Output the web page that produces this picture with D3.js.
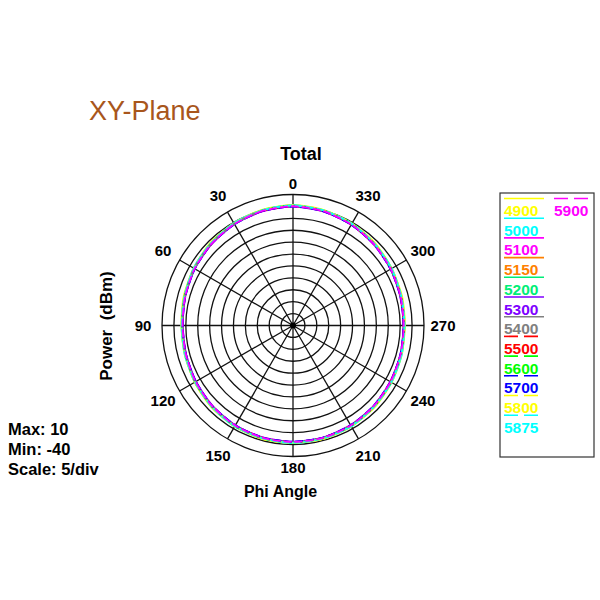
<!DOCTYPE html>
<html><head><meta charset="utf-8">
<script src="https://cdn.jsdelivr.net/npm/d3@7/dist/d3.min.js"></script>
<style>body{margin:0;background:#fff}svg{display:block}text{font-family:"Liberation Sans",Arial,sans-serif}</style>
</head><body>
<svg id="c" width="600" height="600"></svg>
<script>
// ---- data ----
const angles = [0,15,30,45,60,75,90,105,120,135,150,165,180,195,210,225,240,255,270,285,300,315,330,345];
const angleTicks = [0,30,60,90,120,150,180,210,240,270,300,330];
const ringValues = [-40,-35,-30,-25,-20,-15,-10,-5,0,5,10];
const freqs = ["4900","5000","5100","5150","5200","5300","5400","5500","5600","5700","5800","5875","5900"];
const colors = ["#ffff00","#00ffff","#ff00ff","#ff8000","#00ee77","#8000ff","#808080","#ff0000","#00ff00","#0000ff","#ffff00","#00ffff","#ff00ff"];
const dashed = [false,false,false,false,false,false,false,true,true,true,true,true,true];
const s4900 = [5.6,5.3,4.6,4.1,3.1,2.5,1.9,2.0,2.7,3.5,3.9,4.4,4.3,4.3,3.9,3.5,2.8,2.2,2.0,2.4,2.8,3.8,4.4,5.2];
const s5000 = [5.5,5.1,4.7,3.8,3.2,2.2,1.8,2.1,2.5,3.3,4.0,4.1,4.4,4.1,4.0,3.2,2.8,2.3,1.8,2.1,2.9,3.5,4.5,5.0];
const s5100 = [5.0,4.6,4.2,3.3,2.7,1.8,1.2,1.5,2.2,2.7,3.5,3.6,3.9,3.7,3.3,2.9,2.1,1.8,1.4,1.6,2.4,3.0,4.0,4.5];
const s5150 = [5.2,4.8,4.4,3.5,2.9,1.9,1.5,1.8,2.2,3.1,3.5,4.0,3.9,4.0,3.5,3.1,2.3,2.0,1.5,2.0,2.4,3.4,4.0,4.9];
const s5200 = [5.3,5.0,4.2,3.7,2.8,2.2,1.6,1.6,2.5,3.0,3.8,3.9,4.1,3.8,3.7,3.0,2.5,1.9,1.7,1.8,2.6,3.3,4.2,4.8];
const s5300 = [4.9,4.7,4.1,3.4,2.6,1.9,1.3,1.5,2.0,2.9,3.4,3.8,3.8,3.7,3.4,2.8,2.3,1.7,1.4,1.8,2.3,3.2,3.9,4.6];
const s5400 = [5.1,4.9,4.3,3.6,2.7,2.0,1.4,1.7,2.4,2.9,3.6,3.9,4.0,3.9,3.5,3.0,2.4,1.9,1.6,1.9,2.5,3.2,4.1,4.7];
const s5500 = [5.2,4.8,4.4,3.5,2.9,2.1,1.5,1.6,2.3,3.1,3.6,3.8,4.0,3.8,3.6,3.1,2.3,1.9,1.5,1.9,2.6,3.3,4.0,4.8];
const s5600 = [5.3,5.0,4.3,3.7,2.8,2.1,1.6,1.8,2.3,3.1,3.7,4.0,4.1,4.0,3.6,3.1,2.5,2.0,1.7,2.0,2.5,3.4,4.2,4.9];
const s5700 = [5.0,4.7,4.1,3.4,2.6,1.8,1.3,1.5,2.1,2.8,3.4,3.7,3.8,3.7,3.4,2.8,2.2,1.7,1.4,1.7,2.3,3.1,3.9,4.6];
const s5800 = [5.5,5.2,4.6,3.9,3.1,2.3,1.8,2.0,2.6,3.3,3.9,4.2,4.3,4.2,3.9,3.3,2.7,2.2,1.9,2.2,2.8,3.6,4.4,5.1];
const s5875 = [5.4,5.1,4.5,3.8,3.0,2.2,1.7,1.9,2.5,3.2,3.8,4.1,4.2,4.1,3.8,3.2,2.6,2.1,1.8,2.1,2.7,3.5,4.3,5.0];
const s5900 = [5.1,4.8,4.2,3.5,2.7,1.9,1.4,1.6,2.2,2.9,3.5,3.8,3.9,3.8,3.5,2.9,2.3,1.8,1.5,1.8,2.4,3.2,4.0,4.7];
const seriesValues = [s4900,s5000,s5100,s5150,s5200,s5300,s5400,s5500,s5600,s5700,s5800,s5875,s5900];

// ---- layout ----
const svg = d3.select("#c");
svg.append("rect").attr("width",600).attr("height",600).attr("fill","#fff");
const cx = 293, cy = 325.5, R = 131;
const r = d3.scaleLinear().domain([-45,10]).range([0,R]);
const toRad = d => -d * Math.PI / 180; // counter-clockwise from top

svg.append("text").attr("x",89).attr("y",120).attr("font-size",27).attr("fill","#a8561c").text("XY-Plane");
svg.append("text").attr("x",301).attr("y",160).attr("text-anchor","middle").attr("font-size",18).attr("font-weight","bold").text("Total");

const g = svg.append("g").attr("transform",`translate(${cx},${cy})`);

// rings
g.selectAll("circle.ring").data(ringValues).join("circle")
  .attr("class","ring").attr("r",d=>r(d)).attr("fill","none").attr("stroke","#111").attr("stroke-width",1.3);
// spokes
g.selectAll("line.spoke").data(angleTicks).join("line")
  .attr("x1",0).attr("y1",0)
  .attr("x2",d=>R*Math.sin(toRad(d))).attr("y2",d=>-R*Math.cos(toRad(d)))
  .attr("stroke","#111").attr("stroke-width",1.3);
g.append("circle").attr("r",3).attr("fill","#000");

// angle labels
g.selectAll("text.ang").data(angleTicks).join("text")
  .attr("class","ang")
  .attr("x",d=>{const rr=(d%180===0)?142:150;return rr*Math.sin(toRad(d));})
  .attr("y",d=>{const rr=(d%180===0)?142:150;return -rr*Math.cos(toRad(d))+5.3;})
  .attr("text-anchor","middle").attr("font-size",15).attr("font-weight","bold").text(d=>d);

// traces
const line = d3.lineRadial().angle(d=>toRad(d[0])).radius(d=>r(d[1])).curve(d3.curveCardinalClosed.tension(0.3));
seriesValues.forEach((vals,i)=>{
  g.append("path").datum(angles.map((a,j)=>[a,vals[j]]))
    .attr("d",line).attr("fill","none").attr("stroke",colors[i]).attr("stroke-width",1.8)
    .attr("stroke-dasharray",dashed[i]?"8,3":null);
});

// axis titles
svg.append("text").attr("transform","translate(111.5,326) rotate(-90)").attr("text-anchor","middle")
  .attr("font-size",17).attr("font-weight","bold").attr("xml:space","preserve").style("white-space","pre").text("Power  (dBm)");
svg.append("text").attr("x",280.5).attr("y",497).attr("text-anchor","middle").attr("font-size",16).attr("font-weight","bold").text("Phi Angle");

// scale info
const info = ["Max: 10","Min: -40","Scale: 5/div"];
svg.selectAll("text.info").data(info).join("text").attr("class","info")
  .attr("x",8).attr("y",(d,i)=>435+i*20).attr("font-size",16.5).attr("font-weight","bold").text(d=>d);

// legend
svg.append("rect").attr("x",500).attr("y",193).attr("width",94).attr("height",264)
  .attr("fill","none").attr("stroke","#333").attr("stroke-width",1.2);
const leg = svg.selectAll("g.leg").data(freqs).join("g").attr("class","leg")
  .attr("transform",(d,i)=> i<12 ? `translate(504,${216+i*19.7})` : `translate(554,216)`);
leg.append("line").attr("x1",0).attr("x2",d=>d==="5900"?35:40).attr("y1",-17.5).attr("y2",-17.5)
  .attr("stroke",(d,i)=>colors[i]).attr("stroke-width",1.6)
  .attr("stroke-dasharray",(d,i)=>dashed[i]?"14,6":null);
leg.append("text").attr("x",0).attr("y",0).attr("font-size",15.5).attr("font-weight","bold").attr("fill",(d,i)=>colors[i]).text(d=>d);
</script>
</body></html>
